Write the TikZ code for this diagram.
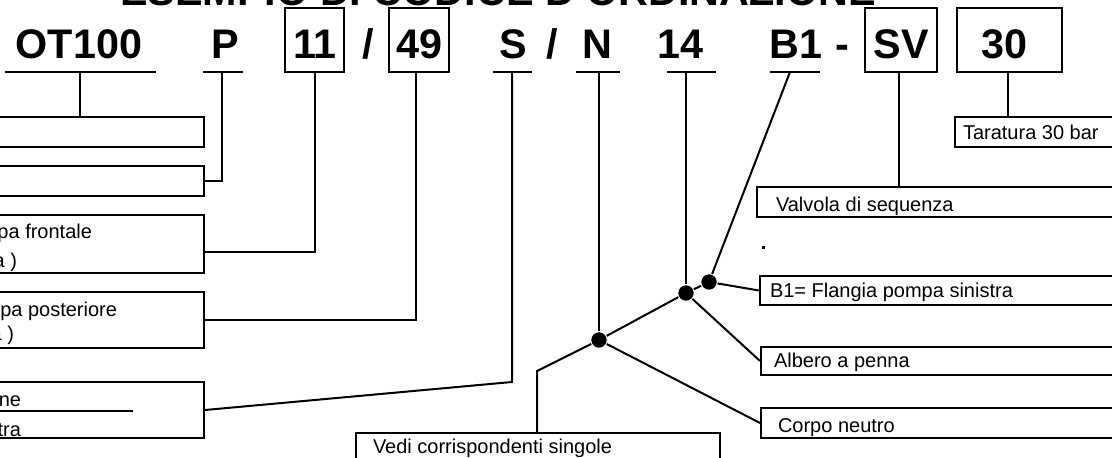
\documentclass[tikz,border=0pt]{standalone}
\usepackage{fontspec}
\setmainfont{Liberation Sans}
\usetikzlibrary{fit,calc}
\begin{document}
\begin{tikzpicture}[x=0.75pt,y=-0.75pt,line width=1.5pt,
  box/.style={draw,rectangle,inner sep=0pt,line width=1.5pt},
  code/.style={font=\fontsize{31}{31}\selectfont\bfseries,anchor=base,inner sep=0pt},
  lbl/.style={font=\fontsize{15}{15}\selectfont,anchor=base west,inner sep=0pt},
  lble/.style={font=\fontsize{15}{15}\selectfont,anchor=base east,inner sep=0pt},
  dotn/.style={circle,fill,inner sep=0pt,minimum size=11.5pt}]
\useasboundingbox (0,0) rectangle (1112,457);
\clip (0,0) rectangle (1112,457);

% title (cut off at top)
\node[code] (title) at (498,5) {ESEMPIO DI CODICE D'ORDINAZIONE};

% code row
\node[code] (tOT) at (79,58) {OT100};
\node[code] (tP) at (225,58) {P};
\node[code] (t11) at (315,58) {11};
\node[code] (ts1) at (368,58) {/};
\node[code] (t49) at (419,58) {49};
\node[code] (tS) at (513,58) {S};
\node[code] (ts2) at (552,58) {/};
\node[code] (tN) at (597,58) {N};
\node[code] (t14) at (680,58) {14};
\node[code] (tB1) at (796,58) {B1};
\node[code] (tdash) at (842,58) {-};
\node[code] (tSV) at (901,58) {SV};
\node[code] (t30) at (1004,58) {30};

% boxes around code parts
\node[box,fit={(285,8)(344,72)}] (b11) {};
\node[box,fit={(389,8)(449,72)}] (b49) {};
\node[box,fit={(865,8)(937,72)}] (bsv) {};
\node[box,fit={(957,8)(1062,72)}] (b30) {};

% underlines
\draw (5,72) -- (156,72);
\draw (203,72) -- (243,72);
\draw (493,72) -- (532,72);
\draw (576,72) -- (620,72);
\draw (667,72) -- (716,72);
\draw (770,72) -- (820,72);

% left boxes (cut off)
\node[box,fit={(-400,117)(204,147)}] (b1) {};
\node[box,fit={(-400,166)(204,196)}] (b2) {};
\node[box,fit={(-400,215)(204,273)}] (b3) {};
\node[box,fit={(-400,292)(204,348)}] (b4) {};
\node[box,fit={(-400,382)(204,438)}] (b5) {};
\node[lble] (l3a) at (93,238) {pa frontale};
\node[lble] (l3b) at (18,267) {a )};
\node[lble] (l4a) at (118,316) {pa posteriore};
\node[lble] (l4b) at (15,340) {a )};
\node[lble] (l5a) at (22,406) {ne};
\node[lble] (l5b) at (22,436) {tra};
\draw (0,411) -- (133,411);

% right boxes
\node[box,fit={(955,117)(1200,147)}] (tar) {};
\node[box,fit={(757,187)(1200,217)}] (valv) {};
\node[box,fit={(760,276)(1200,305)}] (flang) {};
\node[box,fit={(761,347)(1200,375)}] (alb) {};
\node[box,fit={(761,408)(1200,438)}] (corpo) {};
\node[box,fit={(356,433)(720,490)}] (vedi) {};
\node[lbl] (ltar) at (962,139) {Taratura 30 bar};
\node[lbl] (lvalv) at (775,211) {Valvola di sequenza};
\node[lbl] (lflang) at (769,297) {B1= Flangia pompa sinistra};
\node[lbl] (lalb) at (773,367) {Albero a penna};
\node[lbl] (lcorpo) at (777,432) {Corpo neutro};
\node[lbl] (lvedi) at (372,453) {Vedi corrispondenti singole};
\fill (761.5,245.5) rectangle (764.5,248.5);

% junction dots
\node[dotn] (d1) at (599,340) {};
\node[dotn] (d2) at (686,293) {};
\node[dotn] (d3) at (709,282) {};

% connector anchors
\coordinate (cOT) at (80,72);
\coordinate (cP) at (222,72);
\coordinate (c49) at (416,72);
\coordinate (cS) at (512,72);
\coordinate (kS) at (512,382);
\coordinate (cN) at (599,72);
\coordinate (c14) at (686,72);
\coordinate (cB) at (790,72);
\coordinate (cSV) at (899,72);
\coordinate (c30) at (1008,72);
\coordinate (kV) at (537,371);

% connectors
\draw (cOT) -- (cOT |- b1.north);
\draw (cP) |- (b2.east);
\draw (b11.south) |- ($(b3.south east)+(0,-22)$);
\draw (c49) |- (b4.east);
\draw (cS) -- (kS) -- (b5.east);
\draw (cN) -- (d1);
\draw (c14) -- (d2);
\draw (cB) -- (d3);
\draw (cSV) -- (cSV |- valv.north);
\draw (c30) -- (c30 |- tar.north);
\draw (d1) -- (d2);
\draw (d2) -- (d3);
\draw (d3) -- (flang.west);
\draw (d2) -- (alb.west);
\draw (d1) -- (corpo.west);
\draw (d1) -- (kV) -- (kV |- vedi.north);
\end{tikzpicture}
\end{document}
